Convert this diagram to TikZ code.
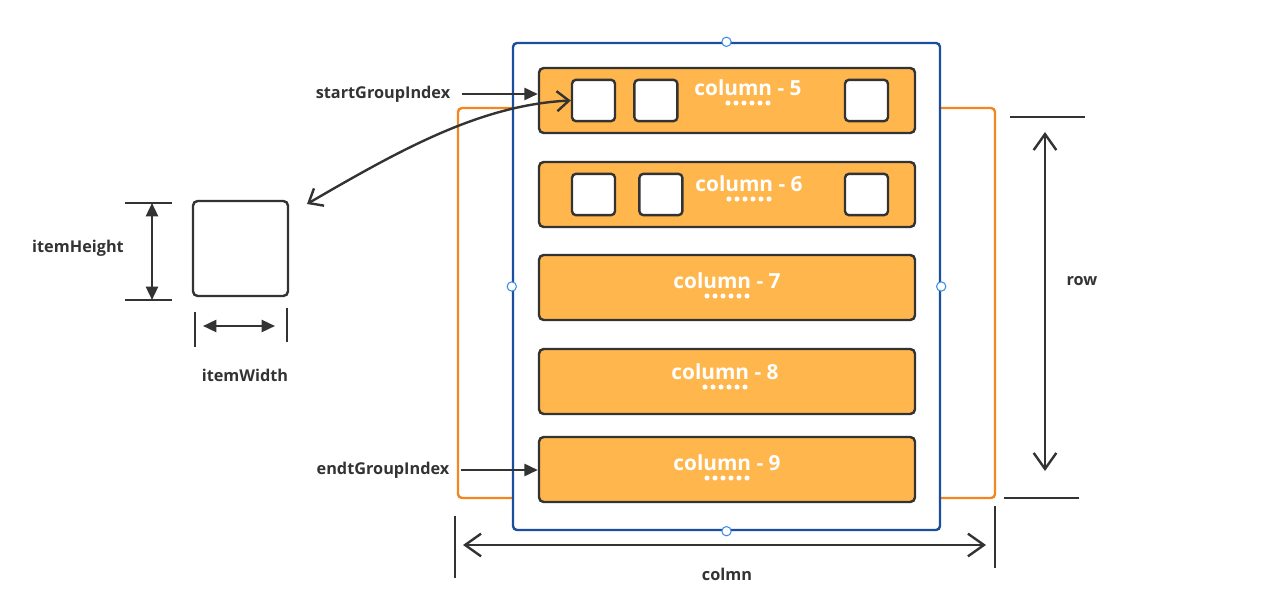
\documentclass[tikz,border=0pt]{standalone}
\usepackage{fontspec}
\setmainfont{Open Sans}
\usepackage{xcolor}
\usetikzlibrary{arrows.meta, positioning}
\definecolor{darkline}{HTML}{333333}
\definecolor{barfill}{HTML}{FFB64D}
\definecolor{frameorange}{HTML}{F5861F}
\definecolor{frameblue}{HTML}{1A4FA0}
\definecolor{handleblue}{HTML}{3B8FE8}

\begin{document}
\begin{tikzpicture}[
  x=0.75pt, y=-0.75pt, line width=1.8pt,
  bar/.style={rectangle, draw=darkline, fill=barfill, rounded corners=3.5pt, minimum width=282pt, minimum height=48.75pt, inner sep=0pt},
  cell/.style={rectangle, draw=darkline, fill=white, rounded corners=3pt, minimum width=32.25pt, minimum height=31pt, inner sep=0pt},
  lbl/.style={font=\bfseries\fontsize{12.2}{14}\selectfont, text=darkline, inner sep=2pt},
  coltext/.style={font=\bfseries\fontsize{15.6}{18}\selectfont, text=white, inner sep=0pt},
  handle/.style={circle, draw=handleblue, fill=white, line width=0.8pt, minimum size=7pt, inner sep=0pt},
  solidtip/.style={darkline, -{Triangle[length=10pt, width=9pt]}},
  bothsolid/.style={darkline, {Triangle[length=10pt, width=9pt]}-{Triangle[length=10pt, width=9pt]}},
  bothopen/.style={darkline, {Straight Barb[length=12pt, width=17pt]}-{Straight Barb[length=12pt, width=17pt]}},
  tick/.style={darkline}
]
\useasboundingbox (0,0) rectangle (1282,599);

% frames
\node[rectangle, draw=frameorange, rounded corners=3pt, minimum width=402.75pt, minimum height=292.5pt] (range) at (726.5,303) {};
\node[rectangle, draw=frameblue, fill=white, rounded corners=3pt, minimum width=320.25pt, minimum height=365.25pt] (view) at (726.5,286.5) {};
\foreach \a in {north, south, west, east}
  \node[handle] (h-\a) at (view.\a) {};

% columns
\foreach \n/\yb/\xt/\yt in {5/100.5/748/88, 6/194.5/749/184, 7/287.5/727/281, 8/381.5/725/372, 9/469.5/727/463}{
  \node[bar] (c\n) at (727,\yb) {};
  \node[coltext] (t\n) at (\xt,\yt) {column - \n};
  \foreach \i in {0,...,5}
    \fill[white] (\xt-20+\i*8,\yt+15) circle (1.9pt);
}

% items
\node[cell] (s51) at (593.5,100.5) {};
\node[cell, right=12.75pt of s51] (s52) {};
\node[cell] (s53) at (866.5,100.5) {};
\node[cell] (s61) at (593.5,194.5) {};
\node[cell, right=16.5pt of s61] (s62) {};
\node[cell] (s63) at (866.5,194.5) {};

% single item with sizes
\node[rectangle, draw=darkline, rounded corners=3.5pt, minimum size=71.25pt, inner sep=0pt] (item) at (240.5,248.5) {};
\coordinate (hT) at (152,203);
\coordinate (hB) at (152,300);
\draw[tick] (125,203) -- (172,203);
\draw[tick] (125,300) -- (172,300);
\draw[bothsolid] (hT) -- (hB);
\node[lbl] (hLbl) at (78,248) {itemHeight};

\coordinate (wL) at (203,326);
\coordinate (wR) at (275,326);
\draw[tick] (195,312) -- (195,347);
\draw[tick] (287,308) -- (287,342);
\draw[bothsolid] (wL) -- (wR);
\node[lbl] (wLbl) at (245,375) {itemWidth};

% indexes
\node[lbl] (start) at (383,94) {startGroupIndex};
\draw[solidtip] ([xshift=6pt]start.east) -- (start.east -| c5.west);
\node[lbl] (endt) at (383,470) {endtGroupIndex};
\draw[solidtip] ([xshift=6pt]endt.east) -- (endt.east -| c9.west);

\coordinate (itemLink) at (307,204);
\draw[darkline, {Straight Barb[length=9pt, width=15pt]}-{Straight Barb[length=9pt, width=15pt]}]
  (itemLink) .. controls (400,150) and (480,105) .. (s51.west);

% row
\coordinate (rT) at (1045,132);
\coordinate (rB) at (1045,471);
\draw[tick] (1010,117) -- (1085,117);
\draw[tick] (1004,498) -- (1079,498);
\draw[bothopen] (rT) -- (rB);
\node[lbl] (rowLbl) at (1082,281) {row};

% colmn
\coordinate (cL) at (463,545);
\coordinate (cR) at (986,545);
\draw[tick] (455,516) -- (455,578);
\draw[tick] (995,506) -- (995,568);
\draw[bothopen] (cL) -- (cR);
\node[lbl] (colLbl) at (727,574) {colmn};
\end{tikzpicture}
\end{document}
